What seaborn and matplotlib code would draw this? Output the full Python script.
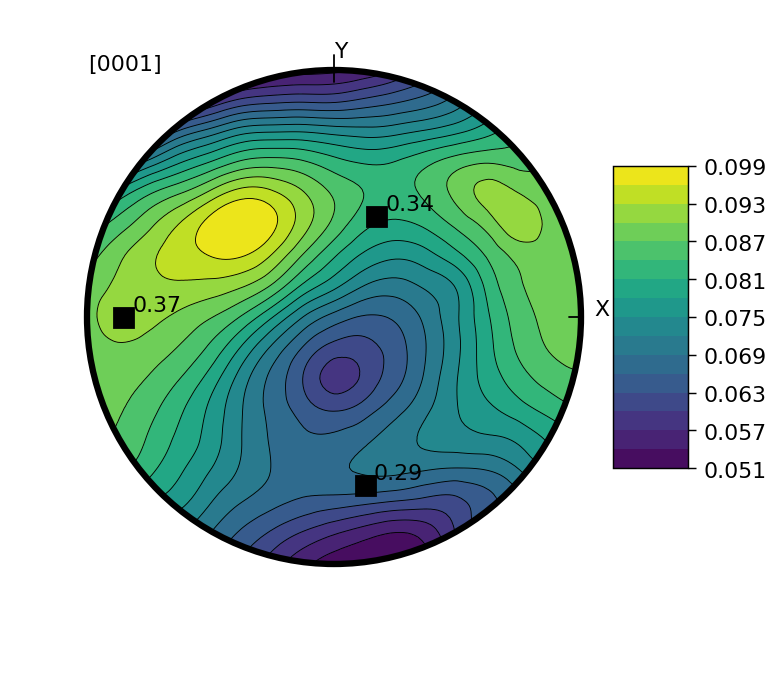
import numpy as np
import matplotlib
matplotlib.use("Agg")
import matplotlib.pyplot as plt
import matplotlib.tri as mtri
from matplotlib.patches import Circle
from matplotlib.transforms import ScaledTranslation
import seaborn as sns

sns.set_style("white")
plt.rcParams["font.family"] = ["DejaVu Sans"]
plt.rcParams.update({"text.color": "k", "ytick.color": "k", "xtick.color": "k"})

W, H, DPI = 783, 674, 130
CX, CY, R = 334, 317, 247
FS = 12.2

row_01 = [44, 44, 45, 46, 47, 49, 51, 51.5, 52, 53, 56, 60, 65, 70, 74, 78, 81]
row_02 = [44, 46, 49, 53, 57, 61, 61.8, 62.3, 61.8, 64, 65.5, 67, 70, 75, 79, 83, 85]
row_03 = [48, 53, 60, 67.5, 70.7, 74.8, 75.2, 75.5, 74.5, 73.5, 74, 75.5, 77, 79.7, 83, 85, 87]
row_04 = [62, 68, 73.5, 78.3, 81.3, 85, 86, 85.2, 82.5, 81, 81.8, 84.3, 86.8, 87.5, 85.5, 87, 87.5]
row_05 = [75, 80, 84.7, 87, 91.3, 96, 94.6, 90.9, 87, 84.5, 83, 85, 88.7, 92.8, 90.2, 88, 87.5]
row_06 = [82, 85.5, 89.3, 93.8, 98.5, 100.5, 98.2, 92, 86.7, 81.6, 80.3, 81.7, 84.8, 88.2, 94, 88.7, 88]
row_07 = [85, 89.7, 92.9, 95, 96.6, 97.2, 93.2, 86.8, 81.2, 77.3, 75.2, 76.7, 80.4, 84.3, 87.9, 89, 89.5]
row_08 = [88, 90.8, 92.3, 92.7, 92, 90.6, 87.3, 80.3, 76.4, 71.5, 70.2, 72.3, 74, 82.4, 86.9, 89, 89.5]
row_09 = [88.5, 92.8, 91.2, 89.2, 87.2, 84, 78, 71.3, 67.3, 65, 65.9, 69.6, 74.7, 80.8, 85.7, 88, 89]
row_10 = [88, 89.7, 88.7, 87, 83.7, 77.5, 70.8, 65.2, 61, 61.2, 64.2, 68.8, 74.2, 80.3, 85, 87.6, 89]
row_11 = [88, 88, 87, 84.2, 79.8, 73, 67.7, 62.3, 56.5, 60, 64.5, 69.5, 75.3, 79.6, 83, 85.5, 86.5]
row_12 = [87.5, 87.5, 85.2, 81.4, 77.2, 71.9, 68, 64.5, 62.3, 64.4, 68, 71.5, 75.2, 77.5, 79.8, 82.2, 84.5]
row_13 = [88, 87, 83.6, 80.3, 77, 71.9, 68.5, 66.6, 66.9, 68.8, 71, 73.5, 74.2, 74.6, 75.1, 78.5, 80]
row_14 = [87, 85, 82, 78.4, 75, 71.7, 69, 67.5, 69.1, 70.3, 70.5, 69.2, 68.2, 68.2, 71.8, 76, 78]
row_15 = [82, 80, 78, 76.5, 72, 69, 67.3, 65.7, 65, 64.1, 63, 61.5, 61, 64.5, 67, 70, 72]
row_16 = [80, 77, 74.5, 72, 69, 65.4, 62.4, 59.5, 57, 54.6, 52.4, 54, 61, 66, 69, 71, 73]
row_17 = [79, 76, 73, 70, 66, 62, 58, 54, 51.5, 51, 51, 53, 58, 63, 67, 70, 72]

peak_labels = ["0.37", "0.34", "0.29"]
peak_x = [-0.850, 0.176, 0.128]
peak_y = [-0.004, 0.405, -0.686]

level_min, level_max, level_step = 0.051, 0.099, 0.003

grid = np.array([row_01, row_02, row_03, row_04, row_05, row_06, row_07, row_08, row_09,
                 row_10, row_11, row_12, row_13, row_14, row_15, row_16, row_17], dtype=float) / 1000
axis_vals = np.linspace(-1, 1, 17)
xx, yy = np.meshgrid(axis_vals, axis_vals[::-1])

# take out some of the reading noise before contouring
kernel = np.array([0.12, 0.76, 0.12])
smooth = np.apply_along_axis(lambda v: np.convolve(np.pad(v, 1, mode="edge"), kernel, "valid"), 0, grid)
smooth = np.apply_along_axis(lambda v: np.convolve(np.pad(v, 1, mode="edge"), kernel, "valid"), 1, smooth)

tri = mtri.Triangulation(xx.ravel(), yy.ravel())
refiner = mtri.UniformTriRefiner(tri)
tri_fine, z_fine = refiner.refine_field(smooth.ravel(), subdiv=3)
z_fine = np.clip(z_fine, level_min + 1e-5, level_max - 1e-5)

levels = np.round(np.arange(level_min, level_max + 1e-9, level_step), 3)
cmap = sns.color_palette("viridis", as_cmap=True)

fig = plt.figure(figsize=(W / DPI, H / DPI), dpi=DPI)
ax = fig.add_axes([(CX - R) / W, 1 - (CY + R) / H, 2 * R / W, 2 * R / H])

clip = Circle((0, 0), 1, transform=ax.transData)
cf = ax.tricontourf(tri_fine, z_fine, levels=levels, cmap=cmap)
cl = ax.tricontour(tri_fine, z_fine, levels=levels, colors="k", linewidths=0.5)
cf.set_clip_path(clip)
cl.set_clip_path(clip)

ax.add_patch(Circle((0, 0), 1, fill=False, ec="k", lw=3.5, clip_on=False, zorder=5))
ax.plot(peak_x, peak_y, "s", color="k", ms=11, zorder=6)
for lab, px, py in zip(peak_labels, peak_x, peak_y):
    ax.text(px + 0.033, py + 0.05, lab, fontsize=FS, va="center", ha="left", zorder=7)

# Y and X axis marks
ax.plot([0, 0], [0.95, 1.06], color="k", lw=1, clip_on=False, zorder=6)
ax.plot([0.95, 1.0], [0, 0], color="k", lw=1, clip_on=False, zorder=6)
ax.plot([1.0, 1.0], [-0.05, 0.05], color="k", lw=1, clip_on=False, zorder=6)
ax.text(0.028, 1.074, "Y", fontsize=FS, ha="center", va="center")
ax.text(1.085, 0.028, "X", fontsize=FS, ha="center", va="center")
ax.text(-0.846, 1.02, "[0001]", fontsize=FS, ha="center", va="center")

ax.set_xlim(-1, 1)
ax.set_ylim(-1, 1)
ax.set_aspect("equal")
ax.axis("off")

cax = fig.add_axes([613 / W, 1 - 468 / H, 75 / W, 302 / H])
cb = fig.colorbar(cf, cax=cax, ticks=levels[::2])
cb.ax.set_yticklabels([f"{v:.3f}" for v in levels[::2]], fontsize=FS)
cb.ax.tick_params(right=True, length=4.5, width=0.8, color="k", pad=4)
cb.outline.set_linewidth(0.8)
cb.outline.set_edgecolor("k")
# the tick labels sit a little under their ticks in the original
shift = ScaledTranslation(0, -1.5 / DPI, fig.dpi_scale_trans)
for t in cb.ax.get_yticklabels():
    t.set_transform(t.get_transform() + shift)

fig.savefig("out.png", dpi=DPI)
